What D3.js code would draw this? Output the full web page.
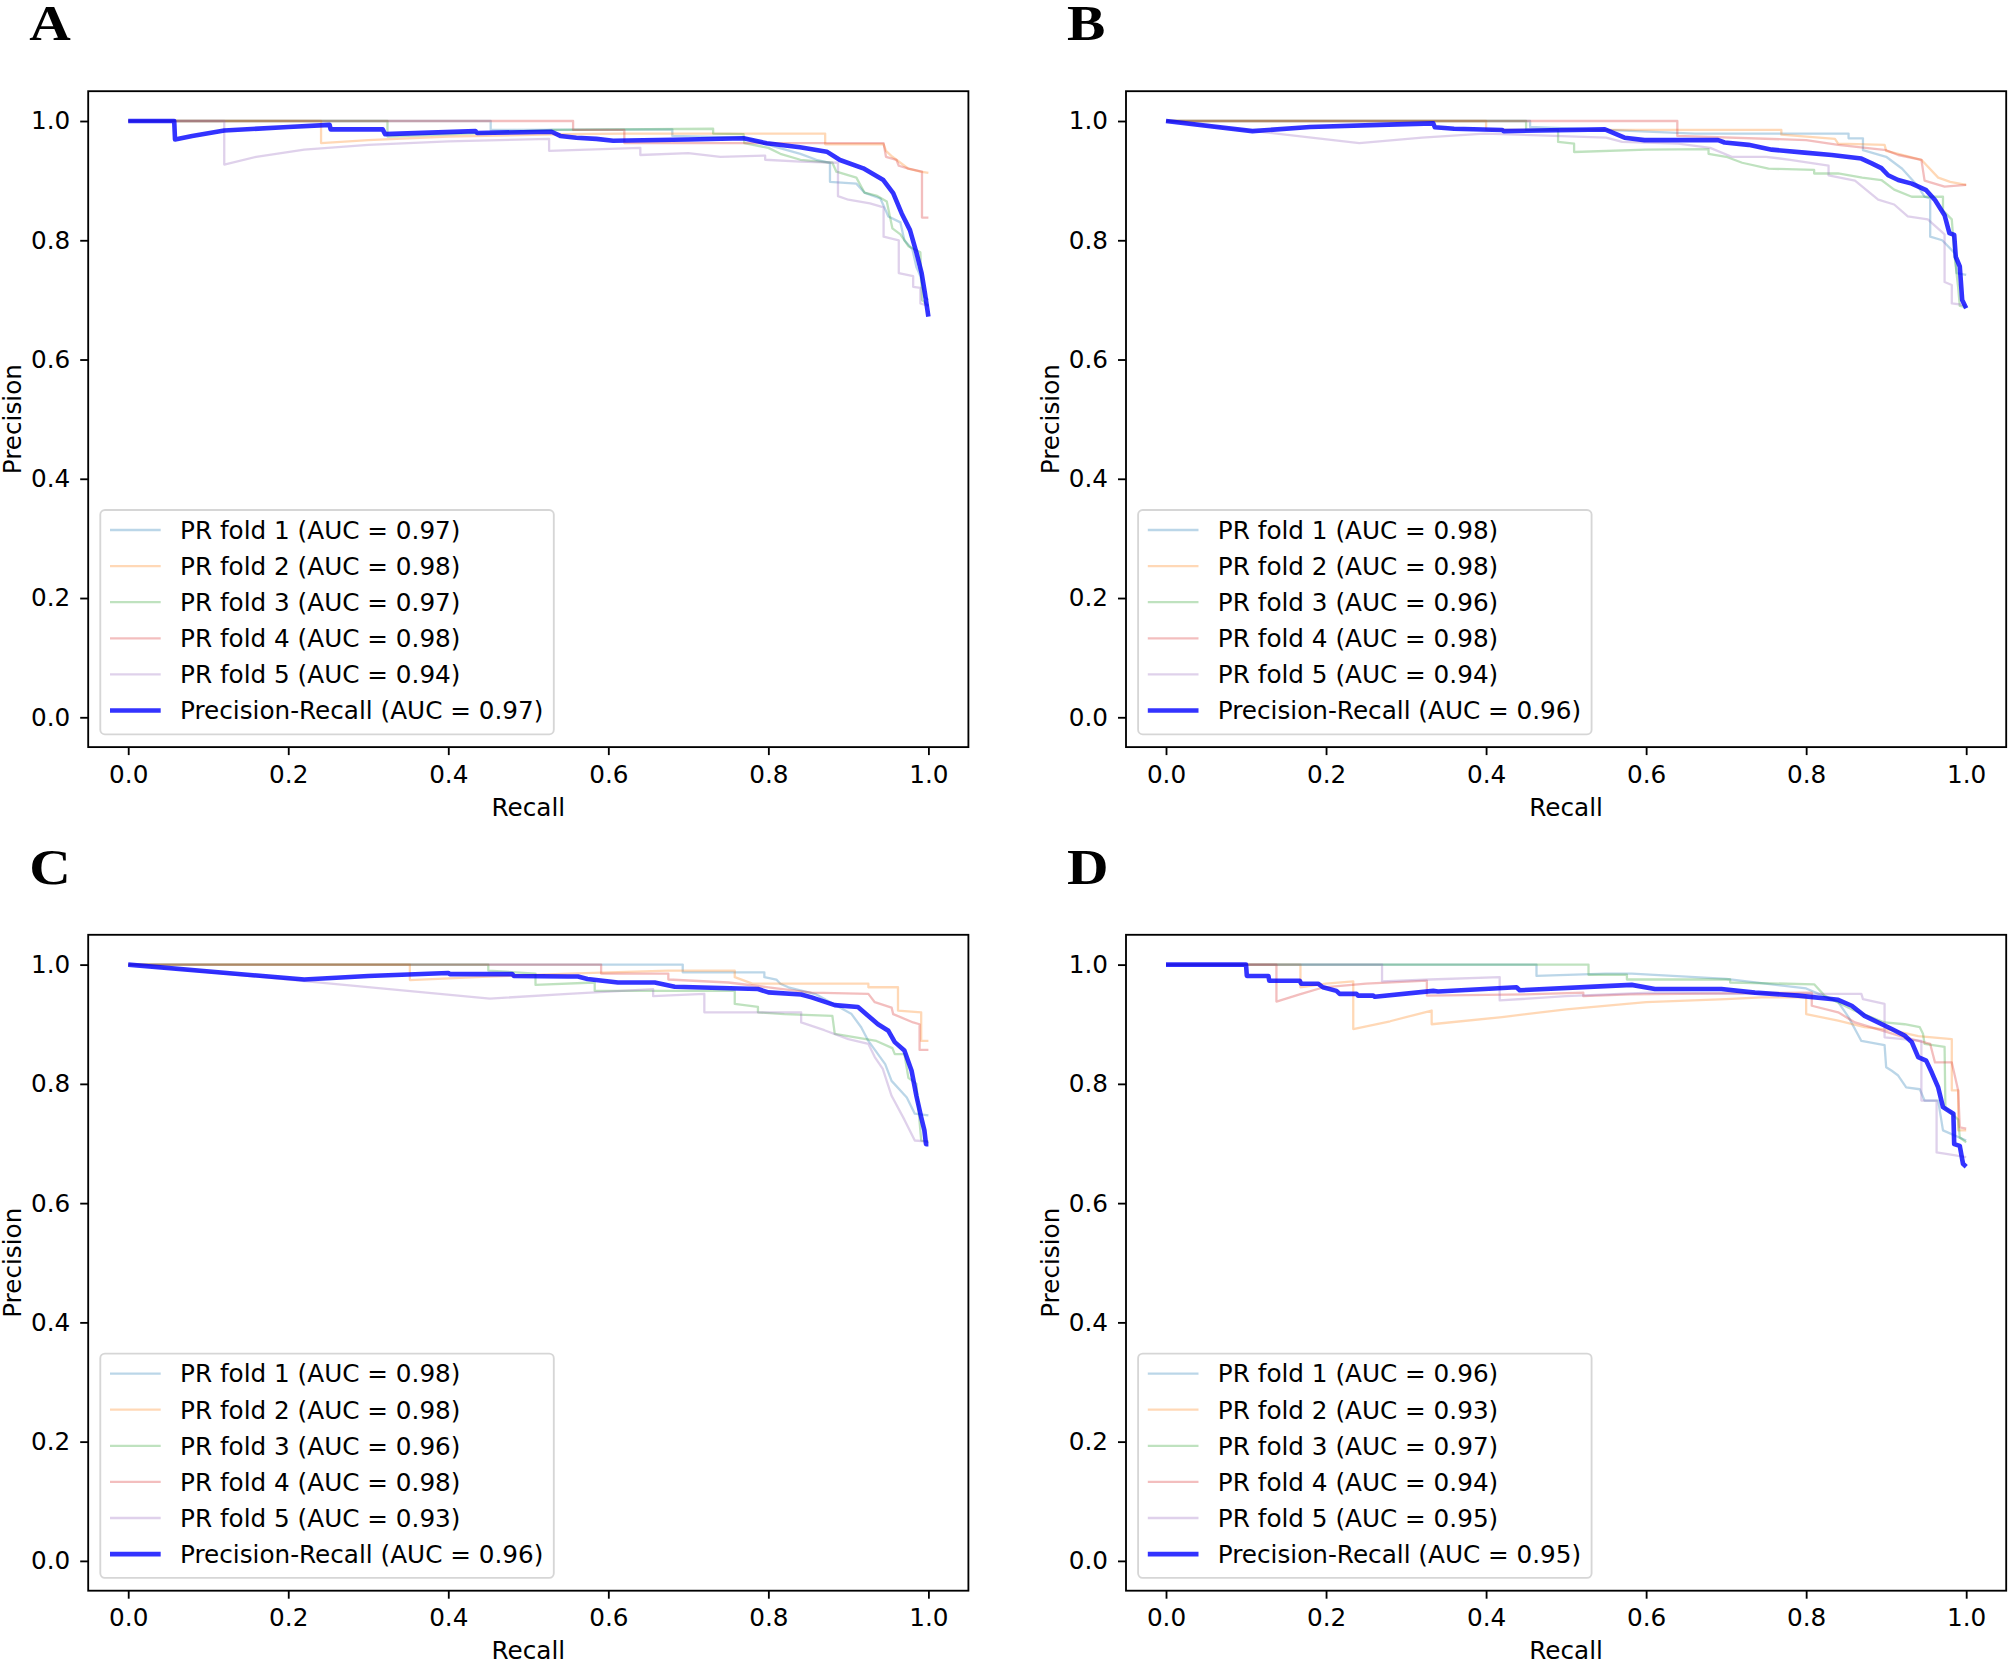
<!DOCTYPE html>
<html><head><meta charset="utf-8">
<script src="https://cdn.jsdelivr.net/npm/d3@7"></script>
<style>body{margin:0;background:#fff} svg{display:block}</style>
</head><body>
<svg id="c" width="2008" height="1661"></svg>
<script>
// ---------------- DATA ----------------
const panelLetters = ["A", "B", "C", "D"];
const tickValues = [0, 0.2, 0.4, 0.6, 0.8, 1.0];
const foldNames = ["PR fold 1", "PR fold 2", "PR fold 3", "PR fold 4", "PR fold 5"];
const meanName = "Precision-Recall";
const foldAUC_A = ["0.97", "0.98", "0.97", "0.98", "0.94"];
const foldAUC_B = ["0.98", "0.98", "0.96", "0.98", "0.94"];
const foldAUC_C = ["0.98", "0.98", "0.96", "0.98", "0.93"];
const foldAUC_D = ["0.96", "0.93", "0.97", "0.94", "0.95"];
const meanAUC = ["0.97", "0.96", "0.96", "0.95"];

// Panel A curves [recall, precision]
const A_mean = [[0,1],[0.0575,1],[0.0585,0.969],[0.08,0.975],[0.12,0.984],[0.2,0.99],[0.2517,0.9935],[0.253,0.986],[0.318,0.986],[0.321,0.978],[0.434,0.983],[0.436,0.980],[0.529,0.982],[0.54,0.975],[0.56,0.972],[0.585,0.970],[0.606,0.967],[0.70,0.969],[0.769,0.971],[0.798,0.9626],[0.8395,0.956],[0.873,0.9486],[0.8895,0.9346],[0.9186,0.9206],[0.9437,0.901],[0.956,0.879],[0.9666,0.845],[0.977,0.817],[0.9853,0.778],[0.9916,0.7446],[0.9957,0.711],[1.0,0.672]];
const A_fold1 = [[0,1],[0.453,1],[0.453,0.985],[0.68,0.986],[0.68,0.975],[0.77,0.972],[0.80,0.96],[0.84,0.945],[0.86,0.935],[0.877,0.93],[0.877,0.898],[0.91,0.895],[0.92,0.88],[0.94,0.87],[0.95,0.84],[0.965,0.83],[0.97,0.80],[0.98,0.785],[0.985,0.755],[0.99,0.74],[0.995,0.705],[1.0,0.70]];
const A_fold2 = [[0,1],[0.241,1],[0.241,0.963],[0.30,0.968],[0.40,0.974],[0.55,0.978],[0.62,0.979],[0.871,0.979],[0.871,0.961],[0.944,0.961],[0.947,0.95],[0.955,0.94],[0.965,0.93],[0.975,0.92],[0.99,0.915],[1.0,0.913]];
const A_fold3 = [[0,1],[0.324,1],[0.324,0.974],[0.45,0.98],[0.53,0.985],[0.731,0.987],[0.731,0.979],[0.769,0.978],[0.77,0.963],[0.80,0.955],[0.815,0.945],[0.84,0.935],[0.88,0.93],[0.885,0.915],[0.91,0.905],[0.92,0.88],[0.935,0.875],[0.948,0.865],[0.955,0.82],[0.965,0.81],[0.975,0.79],[0.99,0.78],[0.992,0.70],[1.0,0.69]];
const A_fold4 = [[0,1],[0.556,1],[0.556,0.985],[0.62,0.985],[0.62,0.963],[0.944,0.963],[0.947,0.94],[0.96,0.935],[0.963,0.925],[0.975,0.92],[0.992,0.915],[0.992,0.838],[1.0,0.838]];
const A_fold5 = [[0,1],[0.12,1],[0.12,0.927],[0.16,0.94],[0.22,0.952],[0.3,0.96],[0.4,0.966],[0.526,0.97],[0.526,0.95],[0.64,0.955],[0.64,0.943],[0.70,0.946],[0.74,0.94],[0.796,0.942],[0.796,0.935],[0.84,0.932],[0.887,0.93],[0.887,0.874],[0.90,0.868],[0.927,0.862],[0.944,0.855],[0.944,0.806],[0.963,0.80],[0.963,0.745],[0.981,0.74],[0.981,0.722],[0.99,0.72],[0.99,0.694],[1.0,0.69]];

// Panel B curves
const B_mean = [[0,1],[0.108,0.983],[0.18,0.99],[0.278,0.994],[0.334,0.996],[0.336,0.9895],[0.36,0.987],[0.42,0.985],[0.422,0.983],[0.5485,0.986],[0.573,0.972],[0.598,0.968],[0.690,0.968],[0.698,0.964],[0.728,0.960],[0.757,0.952],[0.798,0.947],[0.832,0.943],[0.869,0.937],[0.882,0.929],[0.894,0.921],[0.9025,0.909],[0.915,0.901],[0.932,0.895],[0.95,0.884],[0.961,0.8675],[0.973,0.842],[0.979,0.812],[0.985,0.809],[0.987,0.772],[0.992,0.756],[0.995,0.70],[1.0,0.686]];
const B_fold1 = [[0,1],[0.455,1],[0.455,0.99],[0.55,0.985],[0.661,0.979],[0.853,0.979],[0.853,0.971],[0.871,0.971],[0.871,0.951],[0.90,0.94],[0.92,0.92],[0.94,0.89],[0.948,0.873],[0.955,0.87],[0.955,0.806],[0.97,0.80],[0.986,0.778],[0.988,0.745],[1.0,0.742]];
const B_fold2 = [[0,1],[0.40,1],[0.40,0.985],[0.769,0.985],[0.769,0.977],[0.836,0.97],[0.84,0.962],[0.898,0.96],[0.90,0.95],[0.915,0.945],[0.944,0.935],[0.965,0.905],[0.98,0.898],[1.0,0.893]];
const B_fold3 = [[0,1],[0.45,1],[0.45,0.985],[0.49,0.985],[0.49,0.965],[0.51,0.962],[0.51,0.948],[0.6,0.952],[0.678,0.953],[0.678,0.945],[0.70,0.94],[0.72,0.93],[0.753,0.92],[0.81,0.918],[0.81,0.912],[0.84,0.912],[0.87,0.905],[0.894,0.901],[0.91,0.885],[0.932,0.873],[0.971,0.873],[0.971,0.85],[0.982,0.835],[0.985,0.78],[0.99,0.72],[0.992,0.69],[1.0,0.688]];
const B_fold4 = [[0,1],[0.639,1],[0.639,0.975],[0.80,0.968],[0.84,0.96],[0.90,0.951],[0.915,0.943],[0.944,0.935],[0.948,0.90],[0.973,0.89],[1.0,0.893]];
const B_fold5 = [[0,1],[0.2416,0.963],[0.32,0.972],[0.398,0.979],[0.55,0.972],[0.57,0.965],[0.64,0.962],[0.68,0.955],[0.707,0.94],[0.75,0.94],[0.78,0.935],[0.828,0.925],[0.828,0.909],[0.861,0.9],[0.89,0.868],[0.91,0.86],[0.927,0.84],[0.952,0.835],[0.973,0.81],[0.973,0.73],[0.982,0.725],[0.982,0.694],[1.0,0.691]];

// Panel C curves
const C_mean = [[0,1],[0.22,0.975],[0.30,0.981],[0.40,0.986],[0.402,0.984],[0.48,0.984],[0.482,0.981],[0.5496,0.980],[0.562,0.980],[0.574,0.976],[0.612,0.970],[0.658,0.970],[0.683,0.963],[0.787,0.959],[0.80,0.9535],[0.841,0.950],[0.854,0.945],[0.883,0.932],[0.912,0.929],[0.925,0.914],[0.937,0.900],[0.95,0.889],[0.958,0.870],[0.97,0.856],[0.979,0.822],[0.985,0.780],[0.991,0.744],[0.995,0.722],[0.997,0.699],[1.0,0.699]];
const C_fold1 = [[0,1],[0.693,1],[0.693,0.987],[0.795,0.987],[0.795,0.979],[0.81,0.975],[0.815,0.968],[0.825,0.962],[0.86,0.95],[0.904,0.917],[0.916,0.895],[0.925,0.872],[0.946,0.833],[0.954,0.805],[0.973,0.777],[0.983,0.75],[1.0,0.747]];
const C_fold2 = [[0,1],[0.352,1],[0.352,0.974],[0.45,0.98],[0.55,0.985],[0.675,0.99],[0.758,0.99],[0.758,0.979],[0.78,0.968],[0.925,0.968],[0.925,0.962],[0.962,0.962],[0.962,0.923],[0.991,0.92],[0.991,0.872],[1.0,0.872]];
const C_fold3 = [[0,1],[0.45,1],[0.45,0.99],[0.509,0.985],[0.509,0.966],[0.583,0.97],[0.583,0.956],[0.758,0.956],[0.758,0.934],[0.787,0.929],[0.787,0.92],[0.82,0.917],[0.88,0.914],[0.883,0.884],[0.935,0.872],[0.955,0.86],[0.958,0.85],[0.97,0.85],[0.975,0.81],[0.985,0.80],[0.991,0.705],[1.0,0.703]];
const C_fold4 = [[0,1],[0.591,1],[0.591,0.985],[0.675,0.985],[0.675,0.975],[0.75,0.97],[0.80,0.962],[0.854,0.953],[0.925,0.951],[0.933,0.937],[0.954,0.928],[0.956,0.917],[0.981,0.903],[0.989,0.90],[0.989,0.857],[1.0,0.857]];
const C_fold5 = [[0,1],[0.452,0.943],[0.55,0.951],[0.656,0.959],[0.656,0.947],[0.72,0.951],[0.72,0.92],[0.841,0.92],[0.841,0.903],[0.87,0.89],[0.90,0.875],[0.925,0.867],[0.933,0.845],[0.943,0.825],[0.954,0.78],[0.97,0.74],[0.983,0.705],[1.0,0.703]];

// Panel D curves
const D_mean = [[0,1],[0.1,1],[0.101,0.981],[0.128,0.981],[0.129,0.973],[0.167,0.973],[0.169,0.968],[0.19,0.968],[0.196,0.962],[0.213,0.956],[0.217,0.951],[0.238,0.951],[0.24,0.948],[0.259,0.948],[0.261,0.946],[0.334,0.956],[0.34,0.955],[0.438,0.962],[0.442,0.957],[0.5485,0.964],[0.582,0.966],[0.611,0.959],[0.694,0.959],[0.736,0.953],[0.79,0.948],[0.84,0.941],[0.857,0.931],[0.873,0.914],[0.907,0.892],[0.923,0.881],[0.932,0.870],[0.94,0.845],[0.95,0.839],[0.957,0.819],[0.965,0.794],[0.971,0.761],[0.984,0.750],[0.985,0.699],[0.992,0.696],[0.996,0.666],[1.0,0.661]];
const D_fold1 = [[0,1],[0.463,1],[0.463,0.981],[0.55,0.985],[0.582,0.985],[0.65,0.98],[0.70,0.976],[0.80,0.96],[0.84,0.937],[0.853,0.912],[0.869,0.872],[0.898,0.865],[0.90,0.828],[0.907,0.822],[0.915,0.814],[0.925,0.794],[0.942,0.791],[0.948,0.772],[0.965,0.772],[0.971,0.722],[1.0,0.705]];
const D_fold2 = [[0,1],[0.168,1],[0.168,0.962],[0.2,0.968],[0.234,0.972],[0.234,0.892],[0.28,0.905],[0.332,0.923],[0.332,0.90],[0.42,0.912],[0.5,0.925],[0.6,0.937],[0.70,0.942],[0.744,0.945],[0.80,0.945],[0.80,0.917],[0.84,0.906],[0.873,0.895],[0.907,0.89],[0.94,0.88],[0.982,0.875],[0.982,0.789],[0.99,0.789],[0.99,0.722],[1.0,0.722]];
const D_fold3 = [[0,1],[0.528,1],[0.528,0.983],[0.576,0.983],[0.576,0.975],[0.705,0.975],[0.705,0.97],[0.81,0.967],[0.823,0.948],[0.86,0.923],[0.898,0.903],[0.923,0.90],[0.942,0.895],[0.946,0.884],[0.948,0.867],[0.973,0.862],[0.974,0.76],[0.99,0.74],[0.992,0.71],[1.0,0.702]];
const D_fold4 = [[0,1],[0.138,1],[0.138,0.938],[0.167,0.95],[0.197,0.962],[0.25,0.968],[0.326,0.973],[0.326,0.948],[0.45,0.95],[0.5215,0.953],[0.5215,0.947],[0.58,0.95],[0.807,0.953],[0.807,0.931],[0.84,0.92],[0.861,0.903],[0.923,0.878],[0.955,0.867],[0.961,0.836],[0.982,0.836],[0.99,0.789],[0.992,0.727],[1.0,0.725]];
const D_fold5 = [[0,1],[0.27,1],[0.27,0.972],[0.33,0.975],[0.417,0.979],[0.417,0.94],[0.5,0.947],[0.605,0.953],[0.74,0.951],[0.869,0.951],[0.871,0.942],[0.898,0.934],[0.898,0.878],[0.944,0.872],[0.944,0.772],[0.963,0.772],[0.963,0.685],[0.973,0.683],[1.0,0.677]];

// ---------------- ASSEMBLY ----------------
const panelFolds = [
  [A_fold1, A_fold2, A_fold3, A_fold4, A_fold5],
  [B_fold1, B_fold2, B_fold3, B_fold4, B_fold5],
  [C_fold1, C_fold2, C_fold3, C_fold4, C_fold5],
  [D_fold1, D_fold2, D_fold3, D_fold4, D_fold5]
];
const panelMeans = [A_mean, B_mean, C_mean, D_mean];
const panelFoldAUC = [foldAUC_A, foldAUC_B, foldAUC_C, foldAUC_D];

// ---------------- LAYOUT / STYLE ----------------
const foldColors = ["#1f77b4", "#ff7f0e", "#2ca02c", "#d62728", "#9467bd"];
const meanColor = "#0000ff";
const L = {cols: [88.2, 1126.0], rows: [91.2, 934.8], W: 880.2, H: 655.9};
const FONT = "'DejaVu Sans', sans-serif";
const FS = 24.7;

const svg = d3.select("#c");
svg.append("rect").attr("width", 2008).attr("height", 1661).attr("fill", "#fff");

panelLetters.forEach((letter, i) => {
  const left = L.cols[i % 2], top = L.rows[Math.floor(i / 2)];
  const W = L.W, H = L.H;
  const x = d3.scaleLinear().domain([-0.05, 1.05]).range([left, left + W]);
  const y = d3.scaleLinear().domain([-0.05, 1.05]).range([top + H, top]);
  const g = svg.append("g");

  const clipId = "clip" + i;
  svg.append("clipPath").attr("id", clipId)
    .append("rect").attr("x", left).attr("y", top).attr("width", W).attr("height", H);

  const line = d3.line().x(d => x(d[0])).y(d => y(d[1]));
  const plot = g.append("g").attr("clip-path", `url(#${clipId})`);
  panelFolds[i].forEach((curve, k) => {
    plot.append("path").attr("d", line(curve)).attr("fill", "none")
      .attr("stroke", foldColors[k]).attr("stroke-opacity", 0.3).attr("stroke-width", 2.3)
      .attr("stroke-linejoin", "round");
  });
  plot.append("path").attr("d", line(panelMeans[i])).attr("fill", "none")
    .attr("stroke", meanColor).attr("stroke-opacity", 0.8).attr("stroke-width", 4.6)
    .attr("stroke-linejoin", "round");

  // axes
  const xa = g.append("g").attr("transform", `translate(0,${top + H})`)
    .call(d3.axisBottom(x).tickValues(tickValues).tickFormat(d3.format(".1f")).tickSize(8).tickPadding(10));
  const ya = g.append("g").attr("transform", `translate(${left},0)`)
    .call(d3.axisLeft(y).tickValues(tickValues).tickFormat(d3.format(".1f")).tickSize(8).tickPadding(10));
  [xa, ya].forEach(a => {
    a.select(".domain").remove();
    a.selectAll(".tick line").attr("stroke", "#000").attr("stroke-width", 1.84);
    a.selectAll(".tick text").attr("font-family", FONT).attr("font-size", FS).attr("fill", "#000");
  });

  // frame
  g.append("rect").attr("x", left).attr("y", top).attr("width", W).attr("height", H)
    .attr("fill", "none").attr("stroke", "#000").attr("stroke-width", 1.84);

  // axis labels
  g.append("text").attr("x", left + W / 2).attr("y", Math.min(top + H + 69, 1659))
    .attr("text-anchor", "middle").attr("font-family", FONT).attr("font-size", FS).text("Recall");
  g.append("text").attr("transform", `translate(${left - 67},${top + H / 2}) rotate(-90)`)
    .attr("text-anchor", "middle").attr("font-family", FONT).attr("font-size", FS).text("Precision");

  // panel letter
  svg.append("text").attr("transform", `translate(${left - 59},${top - 51}) scale(1.15,1)`)
    .attr("font-family", "'Liberation Serif', 'Times New Roman', serif").attr("font-weight", "bold")
    .attr("font-size", 50).text(letter);

  // legend
  const lgW = 453.5, lgH = 224.3;
  const lx = left + 12.1, ly = top + H - 12.8 - lgH;
  const lg = g.append("g");
  lg.append("rect").attr("x", lx).attr("y", ly).attr("width", lgW).attr("height", lgH)
    .attr("rx", 4.6).attr("fill", "#fff").attr("fill-opacity", 0.8)
    .attr("stroke", "#cccccc").attr("stroke-opacity", 0.8).attr("stroke-width", 1.84);
  const entries = foldNames.map((n, k) => ({label: `${n} (AUC = ${panelFoldAUC[i][k]})`, color: foldColors[k], op: 0.3, w: 2.3}));
  entries.push({label: `${meanName} (AUC = ${meanAUC[i]})`, color: meanColor, op: 0.8, w: 4.6});
  entries.forEach((e, k) => {
    const cy = ly + 20 + k * 36.1;
    lg.append("line").attr("x1", lx + 9.7).attr("x2", lx + 60.4).attr("y1", cy).attr("y2", cy)
      .attr("stroke", e.color).attr("stroke-opacity", e.op).attr("stroke-width", e.w);
    lg.append("text").attr("x", lx + 79.7).attr("y", cy).attr("dy", "0.36em")
      .attr("font-family", FONT).attr("font-size", FS).text(e.label);
  });
});
</script>
</body></html>
